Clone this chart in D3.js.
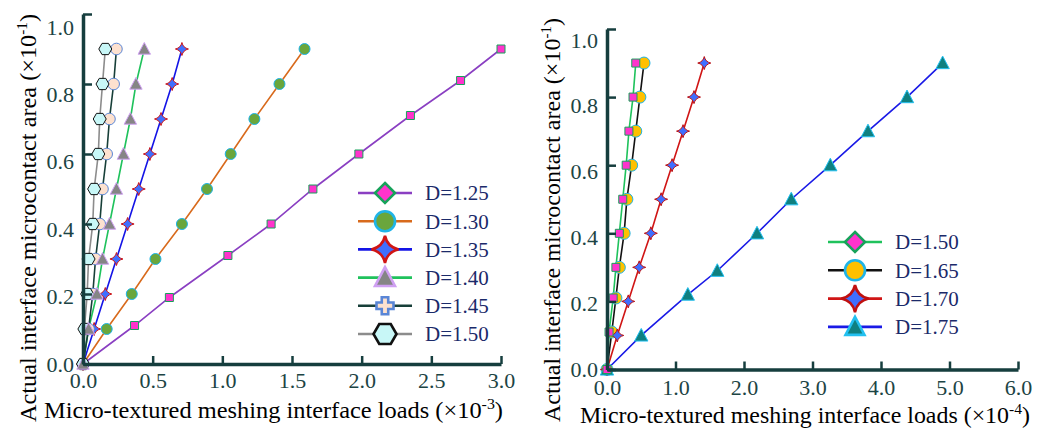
<!DOCTYPE html>
<html>
<head>
<meta charset="utf-8">
<script src="https://cdn.jsdelivr.net/npm/d3@7"></script>
<style>
  body { margin: 0; background: #fff; }
  svg { display: block; }
</style>
</head>
<body>
<svg id="chart" width="1038" height="429"></svg>
<script>
// ---- data ----
// left panel: loads (x10^-3) vs actual microcontact area (x10^-1)
const leftNames = ["D=1.25", "D=1.30", "D=1.35", "D=1.40", "D=1.45", "D=1.50"]
const areaLevels = [0, 0.1, 0.2, 0.3, 0.4, 0.5, 0.6, 0.7, 0.8, 0.9]
const area125 = [0, 0.11, 0.19, 0.31, 0.40, 0.50, 0.60, 0.71, 0.81, 0.90]
const loads125 = [0, 0.37, 0.62, 1.04, 1.35, 1.65, 1.98, 2.35, 2.71, 3.0]
const loads130 = [0, 0.17, 0.35, 0.52, 0.71, 0.89, 1.06, 1.23, 1.41, 1.59]
const loads135 = [0, 0.08, 0.16, 0.24, 0.32, 0.40, 0.48, 0.56, 0.64, 0.71]
const loads140 = [0, 0.04, 0.10, 0.14, 0.19, 0.24, 0.29, 0.34, 0.38, 0.44]
const loads145 = [0, 0.04, 0.07, 0.09, 0.12, 0.14, 0.17, 0.19, 0.22, 0.24]
const loads150 = [0, 0.01, 0.03, 0.04, 0.07, 0.08, 0.11, 0.12, 0.14, 0.16]
const leftXTicks = [0, 0.5, 1.0, 1.5, 2.0, 2.5, 3.0]
const leftYTicks = [0, 0.2, 0.4, 0.6, 0.8, 1.0]

// right panel: loads (x10^-4) vs actual microcontact area (x10^-1)
const rightNames = ["D=1.50", "D=1.65", "D=1.70", "D=1.75"]
const areaR150 = [0, 0.11, 0.21, 0.30, 0.40, 0.50, 0.60, 0.70, 0.80, 0.90]
const loadsR150 = [0, 0.03, 0.09, 0.13, 0.18, 0.23, 0.28, 0.32, 0.38, 0.42]
const areaR165 = [0, 0.11, 0.21, 0.30, 0.40, 0.50, 0.60, 0.70, 0.80, 0.90]
const loadsR165 = [0, 0.07, 0.13, 0.18, 0.25, 0.29, 0.36, 0.42, 0.48, 0.54]
const areaR170 = [0, 0.10, 0.20, 0.30, 0.40, 0.50, 0.60, 0.70, 0.80, 0.90]
const loadsR170 = [0, 0.15, 0.31, 0.47, 0.64, 0.79, 0.95, 1.11, 1.27, 1.42]
const areaR175 = [0, 0.10, 0.22, 0.29, 0.40, 0.50, 0.60, 0.70, 0.80, 0.90]
const loadsR175 = [0, 0.50, 1.18, 1.61, 2.19, 2.69, 3.26, 3.81, 4.38, 4.90]
const rightXTicks = [0, 1, 2, 3, 4, 5, 6]
const rightYTicks = [0, 0.2, 0.4, 0.6, 0.8, 1.0]

// ---- custom symbols (size = radius squared) ----
const symDiamond = { draw(c, s) { const r = Math.sqrt(s); c.moveTo(0, -r); c.lineTo(r, 0); c.lineTo(0, r); c.lineTo(-r, 0); c.closePath() } }
const symSquare = { draw(c, s) { const r = Math.sqrt(s); c.rect(-r, -r, 2 * r, 2 * r) } }
const symCircle = { draw(c, s) { const r = Math.sqrt(s); c.moveTo(r, 0); c.arc(0, 0, r, 0, 2 * Math.PI) } }
const symStar4 = { draw(c, s) {
  const r = Math.sqrt(s), k = r * 0.18
  c.moveTo(0, -r)
  c.quadraticCurveTo(k, -k, r, 0)
  c.quadraticCurveTo(k, k, 0, r)
  c.quadraticCurveTo(-k, k, -r, 0)
  c.quadraticCurveTo(-k, -k, 0, -r)
  c.closePath()
} }
const symTriangle = { draw(c, s) { const r = Math.sqrt(s); c.moveTo(0, -r); c.lineTo(r * 0.95, r * 0.8); c.lineTo(-r * 0.95, r * 0.8); c.closePath() } }
const symPlus = { draw(c, s) {
  const r = Math.sqrt(s), w = r * 0.38
  c.moveTo(-w, -r); c.lineTo(w, -r); c.lineTo(w, -w); c.lineTo(r, -w); c.lineTo(r, w); c.lineTo(w, w)
  c.lineTo(w, r); c.lineTo(-w, r); c.lineTo(-w, w); c.lineTo(-r, w); c.lineTo(-r, -w); c.lineTo(-w, -w); c.closePath()
} }
const symHex = { draw(c, s) {
  const r = Math.sqrt(s)
  for (let i = 0; i < 6; i++) {
    const a = i * Math.PI / 3
    if (i === 0) c.moveTo(r * Math.cos(a), r * Math.sin(a)); else c.lineTo(r * Math.cos(a), r * Math.sin(a))
  }
  c.closePath()
} }

const leftSeries = [
  { name: leftNames[0], x: loads125, y: area125, line: "#8a3fc2", fill: "#ff33cc", stroke: "#17a25a", sym: symSquare, r: 4, legSym: symDiamond, legR: 10 },
  { name: leftNames[1], x: loads130, y: areaLevels, line: "#d86a1c", fill: "#6aa63c", stroke: "#1fb4e8", sym: symCircle, r: 5.5, legSym: symCircle, legR: 10 },
  { name: leftNames[2], x: loads135, y: areaLevels, line: "#1414e6", fill: "#3f6fff", stroke: "#d01515", sym: symStar4, r: 6.5, legSym: symStar4, legR: 13.5 },
  { name: leftNames[3], x: loads140, y: areaLevels, line: "#1fc25c", fill: "#858585", stroke: "#cfa0f2", sym: symTriangle, r: 6.5, legSym: symTriangle, legR: 10.5 },
  { name: leftNames[4], x: loads145, y: areaLevels, line: "#173f38", fill: "#fde1cf", stroke: "#5a86d6", sym: symCircle, r: 5.8, legSym: symPlus, legR: 8.5 },
  { name: leftNames[5], x: loads150, y: areaLevels, line: "#8c8c8c", fill: "#c8f7f7", stroke: "#111", sym: symHex, r: 6.5, legSym: symHex, legR: 11.5 }
]
const rightSeries = [
  { name: rightNames[0], x: loadsR150, y: areaR150, line: "#1fc25c", fill: "#ff33cc", stroke: "#17a25a", sym: symSquare, r: 4, legSym: symDiamond, legR: 10 },
  { name: rightNames[1], x: loadsR165, y: areaR165, line: "#111", fill: "#ffc000", stroke: "#1fb4e8", sym: symCircle, r: 6, legSym: symCircle, legR: 10 },
  { name: rightNames[2], x: loadsR170, y: areaR170, line: "#d01515", fill: "#3f6fff", stroke: "#c01010", sym: symStar4, r: 6.5, legSym: symStar4, legR: 13.5 },
  { name: rightNames[3], x: loadsR175, y: areaR175, line: "#1a1ae6", fill: "#0f8080", stroke: "#22c0f0", sym: symTriangle, r: 7, legSym: symTriangle, legR: 10 }
]

const FONT = '"Liberation Serif", "Times New Roman", serif'
const axisColor = "#163e3e"
const labelColor = "#1c4444"
const legendText = "#1b2a6a"
const svg = d3.select("#chart")

function drawPanel(opts) {
  const x = d3.scaleLinear().domain(opts.xDomain).range(opts.xRange)
  const y = d3.scaleLinear().domain([0, 1]).range(opts.yRange)
  const g = svg.append("g")

  // series lines + markers
  const line = d3.line().x((d) => x(d[0])).y((d) => y(d[1]))
  opts.series.forEach((s) => {
    const pts = s.x.map((v, i) => [v, s.y[i]])
    g.append("path").attr("d", line(pts)).attr("fill", "none")
      .attr("stroke", s.line).attr("stroke-width", 1.6)
  })
  opts.drawOrder.forEach((k) => {
    const s = opts.series[k]
    const pts = s.x.map((v, i) => [v, s.y[i]])
    g.selectAll(null).data(pts).enter().append("path")
      .attr("transform", (d) => `translate(${x(d[0])},${y(d[1])})`)
      .attr("d", d3.symbol().type(s.sym).size(s.r * s.r))
      .attr("fill", s.fill).attr("stroke", s.stroke).attr("stroke-width", 1)
  })

  // axes, ticks point inward
  const xAxis = d3.axisBottom(x).tickValues(opts.xTicks).tickFormat(d3.format(".1f"))
    .tickSizeInner(-8).tickSizeOuter(0).tickPadding(opts.xPad)
  const yAxis = d3.axisLeft(y).tickValues(opts.yTicks).tickFormat(d3.format(".1f"))
    .tickSizeInner(-9).tickSizeOuter(0).tickPadding(9)

  const gx = g.append("g").attr("transform", `translate(0,${opts.yRange[0]})`).call(xAxis)
  const gy = g.append("g").attr("transform", `translate(${opts.xRange[0]},0)`).call(yAxis)
  ;[gx, gy].forEach((a) => {
    a.attr("font-family", null).attr("font-size", null)
    a.select(".domain").attr("stroke", axisColor).attr("stroke-width", 3.5)
    a.selectAll(".tick line").attr("stroke", axisColor).attr("stroke-width", 2.5)
    a.selectAll(".tick text").attr("fill", labelColor).style("font-size", "22px")
  })
  gy.selectAll(".tick text").attr("transform", (d) => `translate(0,${d * opts.yLabelShift})`)

  // titles
  const xt = g.append("text").attr("x", opts.xTitle[0]).attr("y", opts.xTitle[1])
    .attr("fill", "#000").style("font-size", "23px")
    .attr("textLength", opts.xTitle[2]).attr("lengthAdjust", "spacingAndGlyphs")
  xt.append("tspan").text(`Micro-textured meshing interface loads (\u00d710`)
  xt.append("tspan").attr("dy", -9).style("font-size", "15px").text(opts.xExp)
  xt.append("tspan").attr("dy", 9).text(")")

  const yt = g.append("text")
    .attr("transform", `translate(${opts.yTitle[0]},${opts.yTitle[1]}) rotate(-90)`)
    .attr("fill", "#000").style("font-size", "24px")
    .attr("textLength", opts.yTitle[2]).attr("lengthAdjust", "spacingAndGlyphs")
  yt.append("tspan").text("Actual interface microcontact area (\u00d710")
  yt.append("tspan").attr("dy", -9).style("font-size", "15px").text("-1")
  yt.append("tspan").attr("dy", 9).text(")")

  // legend
  const lg = g.append("g")
  opts.series.forEach((s, i) => {
    const cy = opts.legend.y + i * opts.legend.step
    lg.append("line").attr("x1", opts.legend.x0).attr("x2", opts.legend.x0 + 54)
      .attr("y1", cy).attr("y2", cy).attr("stroke", s.line).attr("stroke-width", 2.6)
    lg.append("path").attr("transform", `translate(${opts.legend.x0 + 27},${cy})`)
      .attr("d", d3.symbol().type(s.legSym).size(s.legR * s.legR))
      .attr("fill", s.fill).attr("stroke", s.stroke).attr("stroke-width", 2.6)
    lg.append("text").attr("x", opts.legend.x0 + 67).attr("y", cy).attr("dy", "0.35em")
      .attr("fill", legendText).style("font-size", "21px").text(s.name)
  })
}

drawPanel({
  series: leftSeries, drawOrder: [0, 1, 2, 4, 5, 3],
  xDomain: [0, 3], xRange: [83, 501], yRange: [364, 14],
  xTicks: leftXTicks, yTicks: leftYTicks, xPad: 8, yLabelShift: 13,
  xTitle: [44, 418, 459], xExp: "-3", yTitle: [36, 422, 408],
  legend: { x0: 358, y: 193, step: 28.2 }
})

drawPanel({
  series: rightSeries, drawOrder: [1, 2, 3, 0],
  xDomain: [0, 6], xRange: [607, 1018], yRange: [369.5, 29],
  xTicks: rightXTicks, yTicks: rightYTicks, xPad: 10, yLabelShift: 11,
  xTitle: [580, 423, 450], xExp: "-4", yTitle: [560, 422, 404],
  legend: { x0: 828, y: 242, step: 28.3 }
})

svg.selectAll("text").style("font-family", FONT)
</script>
</body>
</html>
